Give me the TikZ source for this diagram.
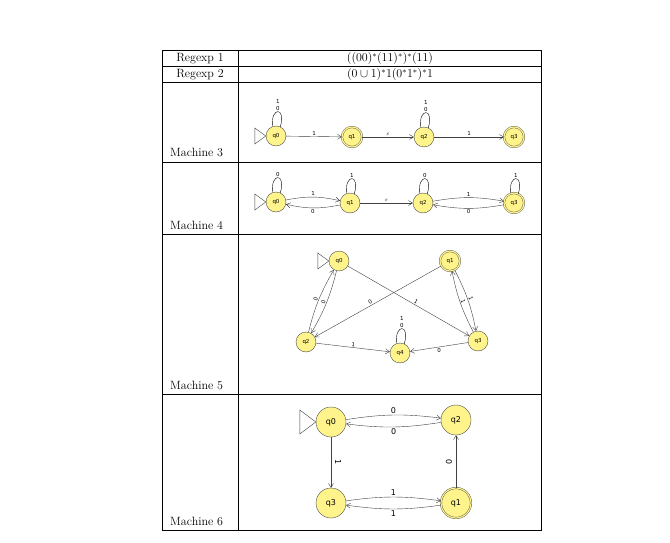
\documentclass[tikz,border=0pt]{standalone}
\usepackage{fontspec}
\newfontfamily\lblf{DejaVu Sans}
\usetikzlibrary{arrows.meta}
\definecolor{st}{RGB}{255,244,140}
\begin{document}
\begin{tikzpicture}[x=1pt,y=-1pt,
 tab/.style={line width=0.8pt},
 s/.style={circle,draw=black!70,fill=st,inner sep=0pt,minimum size=20pt,font=\lblf\fontsize{5.5}{5.5}\selectfont},
 sb/.style={s,minimum size=30pt,font=\lblf\fontsize{8}{8}\selectfont},
 acc/.style={double=st,double distance=1.2pt},
 e/.style={draw=black!75,line width=0.4pt,-{Straight Barb[length=4pt,width=5pt]}},
 lp/.style={e,to path={(\tikztostart.65) .. controls +(6,-20) and +(-2,-20) .. (\tikztostart.110)\tikztonodes}},
 l/.style={font=\lblf\fontsize{5.5}{5.5}\selectfont,inner sep=1pt},
 lb/.style={font=\lblf\fontsize{8}{8}\selectfont,inner sep=1.5pt},
 tl/.style={font=\fontsize{12}{13}\selectfont,inner sep=0pt}]
\useasboundingbox (0,0) rectangle (670,543);
% table
\draw[tab] (162,50) rectangle (541,530);
\draw[tab] (238,50) -- (238,530);
\foreach \y in {66,82,162,234,394} \draw[tab] (162,\y) -- (541,\y);
\node[tl] (r1) at (200,58.5) {Regexp 1};
\node[tl] (r2) at (200,74.5) {Regexp 2};
\node[tl] (e1) at (390,58.5) {$((00)^*(11)^*)^*(11)$};
\node[tl] (e2) at (390,74.5) {$(0\cup 1)^*1(0^*1^*)^*1$};
\node[tl,anchor=base west] (m3) at (170,157) {Machine 3};
\node[tl,anchor=base west] (m4) at (170,229) {Machine 4};
\node[tl,anchor=base west] (m5) at (170,389) {Machine 5};
\node[tl,anchor=base west] (m6) at (170,525) {Machine 6};
% Machine 3
\node[s] (a0) at (276,136) {q0};
\node[s,acc] (a1) at (352,137) {q1};
\node[s] (a2) at (424,137) {q2};
\node[s,acc] (a3) at (514,137) {q3};
\draw[draw=black!75] (a0.west) -- ++(-11,-8) -- ++(0,16) -- cycle;
\draw[e] (a0) -- node[l,above] {1} (a1);
\draw[e] (a1) -- node[l,above] {$\varepsilon$} (a2);
\draw[e] (a2) -- node[l,above] {1} (a3);
\draw (a0) to[lp] node[pos=0.5,l,above] {\shortstack{1\\0}} (a0);
\draw (a2) to[lp] node[pos=0.5,l,above] {\shortstack{1\\0}} (a2);
% Machine 4
\node[s] (b0) at (276,202) {q0};
\node[s] (b1) at (350,203) {q1};
\node[s] (b2) at (423,203) {q2};
\node[s,acc] (b3) at (514,203) {q3};
\draw[draw=black!75] (b0.west) -- ++(-11,-8) -- ++(0,16) -- cycle;
\draw[e] (b0) to[bend left=12] node[l,above] {1} (b1);
\draw[e] (b1) to[bend left=12] node[l,below] {0} (b0);
\draw[e] (b1) -- node[l,above] {$\varepsilon$} (b2);
\draw[e] (b2) to[bend left=10] node[l,above] {1} (b3);
\draw[e] (b3) to[bend left=10] node[l,below] {0} (b2);
\foreach \n/\t in {b0/0,b1/1,b2/0,b3/1}
 \draw (\n) to[lp] node[pos=0.5,l,above] {\t} (\n);
% Machine 5
\node[s] (c0) at (339,261) {q0};
\node[s,acc] (c1) at (450,261) {q1};
\node[s] (c2) at (306,342) {q2};
\node[s] (c3) at (478,341) {q3};
\node[s] (c4) at (400,353) {q4};
\draw[draw=black!75] (c0.west) -- ++(-11,-8) -- ++(0,16) -- cycle;
\draw[e] (c0) -- node[l,pos=0.55,above,sloped] {1} (c3);
\draw[e] (c1) -- node[l,pos=0.55,above,sloped] {0} (c2);
\draw[e] (c2) to[bend left=8] node[l,above,sloped] {0} (c0);
\draw[e] (c0) to[bend left=8] node[l,above,sloped] {0} (c2);
\draw[e] (c1) to[bend left=8] node[l,above,sloped] {1} (c3);
\draw[e] (c3) to[bend left=8] node[l,above,sloped] {1} (c1);
\draw[e] (c2) -- node[l,above,sloped] {1} (c4);
\draw[e] (c3) -- node[l,below] {0} (c4);
\draw (c4) to[lp] node[pos=0.5,l,above] {\shortstack{1\\0}} (c4);
% Machine 6
\node[sb] (d0) at (331,422) {q0};
\node[sb] (d2) at (456,420) {q2};
\node[sb] (d3) at (331,503) {q3};
\node[sb,acc] (d1) at (456,503) {q1};
\draw[draw=black!75] (d0.west) -- ++(-16,-12) -- ++(0,24) -- cycle;
\draw[e] (d0) to[bend left=8] node[lb,above] {0} (d2);
\draw[e] (d2) to[bend left=8] node[lb,below] {0} (d0);
\draw[e] (d0) -- node[lb,xshift=7,rotate=-90] {1} (d3);
\draw[e] (d1) -- node[lb,xshift=-7,rotate=90] {0} (d2);
\draw[e] (d3) to[bend left=8] node[lb,above] {1} (d1);
\draw[e] (d1) to[bend left=8] node[lb,below] {1} (d3);
\end{tikzpicture}
\end{document}
